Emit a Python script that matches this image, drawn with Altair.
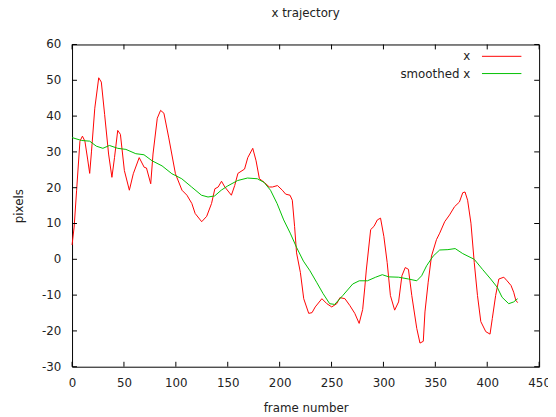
import altair as alt
import pandas as pd

# raw x trajectory
raw_frame = [0, 2, 4.4, 7.6, 10, 12.4, 15, 17, 18.7, 21.9, 25.7, 28.2, 31.4, 35.2, 38.4, 40.9, 44, 46.6,
             50.4, 55.2, 59, 64.7, 69.5, 71.7, 75.8, 78, 82.1, 85.3, 88.5, 93.2, 99.6, 105.9, 110.7,
             115.4, 118.6, 124.9, 129.7, 134.4, 137.6, 140.8, 144, 147.2, 153.5, 156.7, 159.8, 166.2,
             169.3, 174.1, 177.3, 180.5, 185.2, 190, 193.1, 197.9, 202.6, 205.8, 210, 212.2, 214.4,
             216.3, 220, 223.2, 228, 231.2, 234.3, 240.7, 245.5, 250.2, 255, 258.1, 262.9, 267.6,
             272.4, 276.6, 280, 282, 283.5, 287.7, 290.9, 294.1, 297.2, 300.4, 303.6, 306.7, 310.8,
             314.6, 317.8, 321, 324.1, 327.3, 332.1, 335.2, 338.4, 340, 343.1, 346.3, 351.1, 354.2,
             359, 363.7, 368.5, 373.2, 376.4, 378.6, 381.1, 384.3, 387.5, 390.6, 393.8, 398.6, 402.7,
             404.9, 408.1, 411.2, 416, 419.1, 422.9, 425.5, 427.6, 429.3]
raw_x = [4, 9, 19.3, 33, 34.4, 33, 28, 24, 30, 42.2, 50.7, 49.5, 40.4, 29.4, 22.9, 28.4, 36, 34.9,
         24.8, 19.3, 23.9, 28.4, 25.7, 25.5, 21.1, 29.4, 39.4, 41.6, 40.8, 33.9, 23.9, 19.3, 17.9,
         15.6, 12.8, 10.5, 12.0, 15.6, 19.7, 20.2, 21.8, 20.2, 17.9, 20.6, 24.0, 25.2,
         28.4, 31, 27.5, 22.5, 21.5, 20.2, 20.2, 20.6, 19.3, 18.2, 17.9, 16.5, 9.2,
         1.8, -3.7, -11, -15.1, -14.9, -13.3, -11, -12.4, -13.3, -12.4, -10.7, -11, -12.9,
         -15.1, -17.9, -14, -8, -3, 8.3, 9.2, 11, 11.5, 6.4, -0.9, -10.1, -14.2,
         -11.9, -4.6, -2.3, -2.8, -10.1, -19.3, -23.4, -22.9, -14.7, -6.4, 0.9, 5.5, 7.3,
         10.5, 12.4, 14.7, 16, 18.6, 18.8, 16.5, 10.1, -0.9, -10.1, -17.4, -20.2, -20.9,
         -16.5, -10.1, -5.5, -5, -6, -7.3, -9.2, -11.5, -12.1]

# smoothed x trajectory
smooth_frame = [0, 9, 17, 23.4, 29.7, 36, 44, 51.9, 61.4, 69.3, 77.2, 86.7, 96.2, 105.7, 115.2, 124.7,
                131, 137.4, 143.7, 150, 159.5, 169, 178.5, 184.9, 191.2, 197.5, 203.9, 210.2, 216.5,
                222.9, 229.2, 235.6, 241.9, 248.2, 253, 260.9, 270.4, 276.7, 284.6, 292.5, 298.9,
                305.1, 314.6, 324.1, 332.1, 336.8, 341.6, 347.9, 354.2, 362.1, 369.1, 376.4, 387.5,
                395.4, 403.3, 409.6, 414.3, 420.7, 425.5, 429.3]
smooth_x = [34, 33.2, 33, 31.6, 31, 31.8, 31, 30.7, 29.5, 29.2, 27.5, 26.1, 23.9, 22.5, 20.2, 17.9,
            17.4, 17.7, 19.3, 20.5, 22, 22.7, 22.5, 21.5, 19.3, 15.6, 11, 7.3, 3.2,
            -0.5, -3.2, -6.4, -9.6, -12.4, -12.6, -10.1, -6.9, -6, -6, -5, -4.3,
            -4.9, -5, -5.5, -6, -4.6, -1.8, 0.9, 2.6, 2.7, 3, 1.6, 0,
            -2.8, -5.5, -7.8, -10.6, -12.4, -11.9, -11]

x_ticks = [0, 50, 100, 150, 200, 250, 300, 350, 400, 450]
y_ticks = [-30, -20, -10, 0, 10, 20, 30, 40, 50, 60]
legend_labels = ["x", "smoothed x"]
legend_colors = ["#ff0000", "#00c000"]

W, H = 474, 327
FONT = "DejaVu Sans"
TXT = "#222222"

raw_df = pd.DataFrame({"frame": raw_frame, "x": raw_x})
smooth_df = pd.DataFrame({"frame": smooth_frame, "x": smooth_x})
xt_df = pd.DataFrame({"t": x_ticks})
yt_df = pd.DataFrame({"t": y_ticks, "lab": [str(v) for v in y_ticks]})

xscale = alt.Scale(domain=[0, 450], nice=False, zero=False)
yscale = alt.Scale(domain=[-30, 60], nice=False, zero=False)

x_axis = alt.Axis(values=x_ticks, title="frame number", labelPadding=11, titlePadding=14)
y_axis = alt.Axis(values=y_ticks, title="pixels", labels=False, titlePadding=47)

raw_line = alt.Chart(raw_df).mark_line(color="#ff0000", strokeWidth=1).encode(
    x=alt.X("frame:Q", scale=xscale, axis=x_axis),
    y=alt.Y("x:Q", scale=yscale, axis=y_axis),
)
smooth_line = alt.Chart(smooth_df).mark_line(color="#00c000", strokeWidth=1).encode(
    x=alt.X("frame:Q", scale=xscale),
    y=alt.Y("x:Q", scale=yscale),
)

tick_style = dict(color="black", strokeWidth=1)
xt_bottom = alt.Chart(xt_df).mark_rule(**tick_style).encode(
    x=alt.X("t:Q", scale=xscale), y=alt.value(H), y2=alt.value(H - 5))
xt_top = alt.Chart(xt_df).mark_rule(**tick_style).encode(
    x=alt.X("t:Q", scale=xscale), y=alt.value(0), y2=alt.value(5))
yt_left = alt.Chart(yt_df).mark_rule(**tick_style).encode(
    y=alt.Y("t:Q", scale=yscale), x=alt.value(0), x2=alt.value(5))
yt_right = alt.Chart(yt_df).mark_rule(**tick_style).encode(
    y=alt.Y("t:Q", scale=yscale), x=alt.value(W), x2=alt.value(W - 5))
y_labels = alt.Chart(yt_df).mark_text(align="right", baseline="middle", font=FONT,
                                      fontSize=12, color=TXT).encode(
    y=alt.Y("t:Q", scale=yscale), x=alt.value(-11), text="lab:N")

legend_layers = []
for i, (lab, col) in enumerate(zip(legend_labels, legend_colors)):
    ldf = pd.DataFrame({"label": [lab]})
    ypix = 12 + i * 17.5
    legend_layers.append(
        alt.Chart(ldf).mark_text(align="right", baseline="middle", font=FONT,
                                 fontSize=12, color=TXT).encode(
            x=alt.value(404), y=alt.value(ypix), text="label:N"))
    legend_layers.append(
        alt.Chart(ldf).mark_rule(strokeWidth=1, color=col).encode(
            x=alt.value(416), x2=alt.value(456), y=alt.value(ypix)))

chart = alt.layer(
    raw_line, smooth_line, xt_bottom, xt_top, yt_left, yt_right, y_labels, *legend_layers
).properties(
    width=W, height=H,
    title=alt.TitleParams("x trajectory", font=FONT, fontSize=12, fontWeight="normal",
                          color=TXT, anchor="middle", offset=19),
    autosize=alt.AutoSizeParams(type="none"),
    padding={"left": 65, "top": 34, "right": 9, "bottom": 48},
).configure_view(stroke="black", strokeWidth=1).configure_axis(
    grid=False, ticks=False, domain=False, labelOverlap=False, labelFlush=False,
    labelFontSize=12, titleFontSize=12, labelFont=FONT, titleFont=FONT,
    labelColor=TXT, titleColor=TXT, titleFontWeight="normal",
)

chart.save("out.html", embed_options={"renderer": "svg", "actions": False})
